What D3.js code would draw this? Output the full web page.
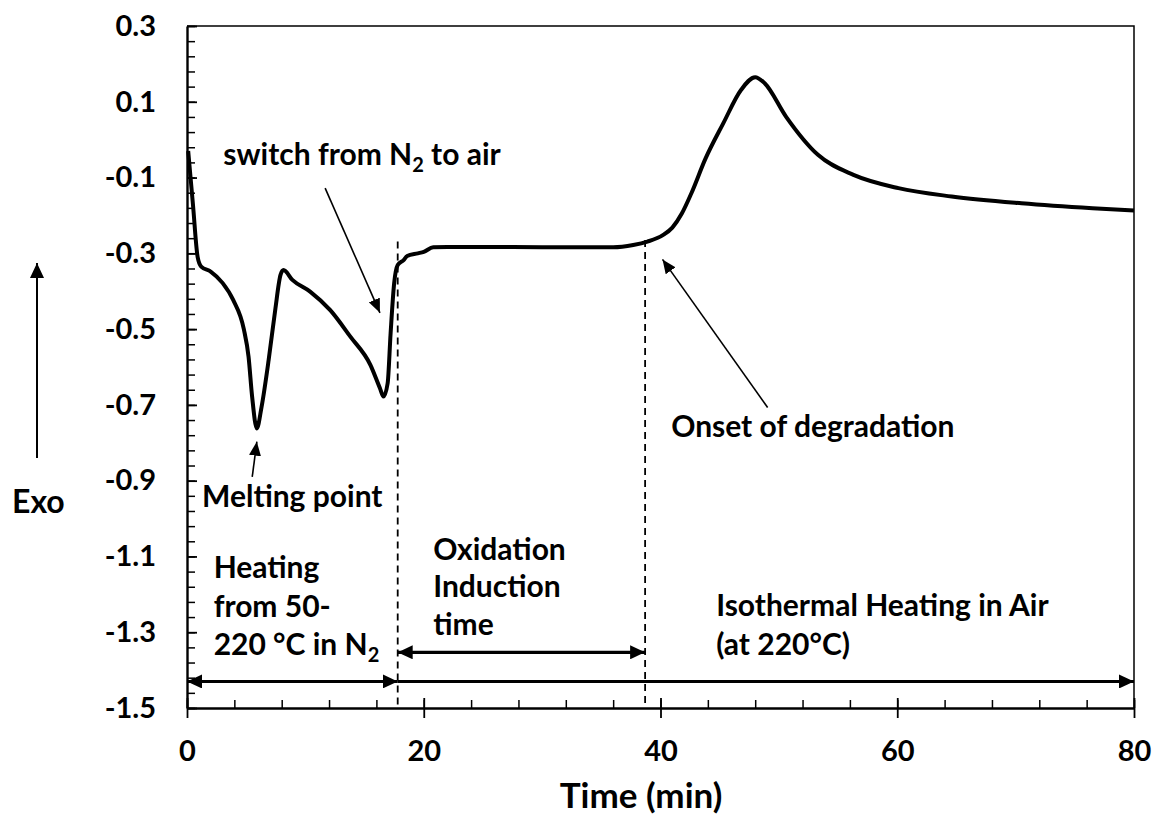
<!DOCTYPE html>
<html lang="en">
<head>
<meta charset="UTF-8">
<title>DSC - oxidation induction time</title>
<script src="https://d3js.org/d3.v7.min.js"></script>
<style>
  body { margin: 0; background: white; }
  svg text { font-family: Lato, 'Open Sans', sans-serif; font-weight: bold; fill: black; }
</style>
</head>
<body>
<div id="chart"></div>
<script>
// DSC trace (time in min, heat flow)
const time = [0.1, 0.5, 0.9, 1.2, 2.0, 3.0, 3.9, 4.8, 5.2, 5.5, 5.9, 6.3, 6.9, 7.45, 7.9, 8.15,
  8.9, 10.4, 12.1, 13.8, 15.5, 16.3, 16.6, 16.95, 17.2, 17.5, 17.8, 18.3, 18.6, 19.5, 20.0, 20.8,
  22, 25, 30, 36, 37.7, 38.9, 40.2, 41.0, 41.8, 42.6, 43.8, 45.3, 46.8, 48.0, 48.8, 50.6, 53.3, 56.3,
  60.1, 64.6, 70.5, 76.5, 80];
const heatFlow = [-0.03, -0.17, -0.31, -0.335, -0.348, -0.378, -0.423, -0.50, -0.573, -0.678, -0.762, -0.705, -0.581, -0.45, -0.357, -0.344,
  -0.37, -0.401, -0.45, -0.52, -0.595, -0.656, -0.678, -0.643, -0.511, -0.379, -0.331, -0.318, -0.307, -0.300, -0.296, -0.284,
  -0.283, -0.283, -0.284, -0.284, -0.278, -0.269, -0.252, -0.232, -0.195, -0.142, -0.05, 0.043, 0.131, 0.165, 0.149, 0.061, -0.04, -0.093,
  -0.128, -0.15, -0.168, -0.181, -0.187];

const xTickValues = [0, 20, 40, 60, 80];
const yTickValues = [0.3, 0.1, -0.1, -0.3, -0.5, -0.7, -0.9, -1.1, -1.3, -1.5];

// event times (min): gas switch and onset of degradation
const switchTime = 17.8;
const onsetTime = 38.7;

const width = 1153, height = 817;
const margin = {top: 26, right: 19, bottom: 109, left: 187};
const innerW = width - margin.left - margin.right;
const innerH = height - margin.top - margin.bottom;

const svg = d3.select("#chart").append("svg")
    .attr("width", width)
    .attr("height", height);

svg.append("rect").attr("width", width).attr("height", height).attr("fill", "white");

// arrow heads
const defs = svg.append("defs");
function marker(id, len, wid) {
  defs.append("marker")
      .attr("id", id)
      .attr("viewBox", `0 0 ${len} ${wid}`)
      .attr("refX", len).attr("refY", wid / 2)
      .attr("markerWidth", len).attr("markerHeight", wid)
      .attr("markerUnits", "userSpaceOnUse")
      .attr("orient", "auto-start-reverse")
    .append("path")
      .attr("d", `M0,0L${len},${wid / 2}L0,${wid}Z`)
      .attr("fill", "black");
}
marker("bigHead", 15, 14);
marker("smallHead", 14, 12);

const g = svg.append("g").attr("transform", `translate(${margin.left},${margin.top})`);

const x = d3.scaleLinear().domain([0, 80]).range([0, innerW]);
const y = d3.scaleLinear().domain([-1.5, 0.3]).range([innerH, 0]);

// thin top / right frame
g.append("path")
    .attr("d", `M0,0H${innerW}V${innerH}`)
    .attr("fill", "none")
    .attr("stroke", "black")
    .attr("stroke-width", 1.5);

// minor ticks (inside)
g.append("g")
    .call(d3.axisLeft(y).tickValues(d3.range(0, 46).map(i => -1.5 + i * 0.04)).tickSize(-8).tickFormat(""))
    .call(a => a.select(".domain").remove())
    .selectAll("line").attr("stroke-width", 1.5);
g.append("g")
    .attr("transform", `translate(0,${innerH})`)
    .call(d3.axisBottom(x).tickValues(d3.range(0, 21).map(i => i * 4)).tickSize(-8).tickFormat(""))
    .call(a => a.select(".domain").remove())
    .selectAll("line").attr("stroke-width", 1.5);

// major ticks cross the axis
const yAxis = g.append("g")
    .call(d3.axisLeft(y).tickValues(yTickValues).tickSize(10).tickPadding(21).tickSizeOuter(0)
      .tickFormat(d => d.toFixed(1)));
yAxis.selectAll(".tick line").attr("x2", 10).attr("stroke-width", 1.8);
yAxis.select(".domain").attr("stroke-width", 2.4);
yAxis.selectAll("text").style("font-size", "29px").attr("font-family", null);

const xAxis = g.append("g")
    .attr("transform", `translate(0,${innerH})`)
    .call(d3.axisBottom(x).tickValues(xTickValues).tickSize(10).tickPadding(22).tickSizeOuter(0));
xAxis.selectAll(".tick line").attr("y1", -10).attr("stroke-width", 1.8);
xAxis.select(".domain").attr("stroke-width", 2.4);
xAxis.selectAll("text").style("font-size", "29px").attr("font-family", null);

// dashed event lines
g.selectAll(".event")
  .data([[switchTime, -0.269], [onsetTime, -0.265]])
  .join("line")
    .attr("x1", d => x(d[0])).attr("x2", d => x(d[0]))
    .attr("y1", d => y(d[1])).attr("y2", innerH)
    .attr("stroke", "black")
    .attr("stroke-width", 1.8)
    .attr("stroke-dasharray", "7,5");

// the trace
const line = d3.line()
    .x(d => x(d[0]))
    .y(d => y(d[1]))
    .curve(d3.curveMonotoneX);
g.append("path")
    .datum(time.map((t, i) => [t, heatFlow[i]]))
    .attr("d", line)
    .attr("fill", "none")
    .attr("stroke", "black")
    .attr("stroke-width", 4)
    .attr("stroke-linejoin", "round");

// horizontal range arrows
function hArrow(t0, t1, v, both) {
  g.append("line")
    .attr("x1", x(t0)).attr("x2", x(t1))
    .attr("y1", y(v)).attr("y2", y(v))
    .attr("stroke", "black").attr("stroke-width", 3.2)
    .attr("marker-end", "url(#bigHead)")
    .attr("marker-start", both ? "url(#bigHead)" : null);
}
hArrow(0, switchTime, -1.430, true);
hArrow(switchTime, 80, -1.430, false);
hArrow(switchTime, onsetTime, -1.353, true);

// pointer arrows
function pointer(t0, v0, t1, v1) {
  g.append("line")
    .attr("x1", x(t0)).attr("y1", y(v0))
    .attr("x2", x(t1)).attr("y2", y(v1))
    .attr("stroke", "black").attr("stroke-width", 1.6)
    .attr("marker-end", "url(#smallHead)");
}
pointer(11.67, -0.128, 16.3, -0.457);
pointer(5.51, -0.89, 5.9, -0.797);
pointer(49.05, -0.707, 40.17, -0.316);

// text labels; {sub: "2"} gives a subscript
const SUB = 7;
function label(t, v, lines, gap) {
  const txt = g.append("text")
    .attr("x", x(t)).attr("y", y(v))
    .style("font-size", "30px");
  let shift = 0;
  lines.forEach((ln, i) => {
    ln.forEach((part, j) => {
      const sp = txt.append("tspan");
      let dy = shift;
      if (j === 0) {
        sp.attr("x", x(t));
        dy += i === 0 ? 0 : gap;
      }
      if (typeof part === "string") {
        sp.text(part);
        shift = 0;
      } else {
        sp.style("font-size", "20px").text(part.sub);
        dy += SUB;
        shift = -SUB;
      }
      sp.attr("dy", dy);
    });
  });
}
label(3.07, -0.067, [["switch from N", {sub: "2"}, " to air"]], 0);
label(1.27, -0.969, [["Melting point"]], 0);
label(2.25, -1.158, [["Heating"], ["from 50-"], ["220 °C in N", {sub: "2"}]], 38.5);
label(20.8, -1.109, [["Oxidation"], ["Induction"], ["time"]], 37.5);
label(44.7, -1.257, [["Isothermal Heating in Air"], ["(at 220°C)"]], 39);
label(40.9, -0.784, [["Onset of degradation"]], 0);

// axis title
svg.append("text")
    .attr("x", 641).attr("y", 808)
    .attr("text-anchor", "middle")
    .style("font-size", "35px")
    .text("Time (min)");

// Exo arrow on the left
svg.append("line")
    .attr("x1", 37).attr("x2", 37)
    .attr("y1", 458).attr("y2", 263)
    .attr("stroke", "black").attr("stroke-width", 2)
    .attr("marker-end", "url(#bigHead)");
svg.append("text")
    .attr("x", 12).attr("y", 513)
    .style("font-size", "32px")
    .text("Exo");
</script>
</body>
</html>
